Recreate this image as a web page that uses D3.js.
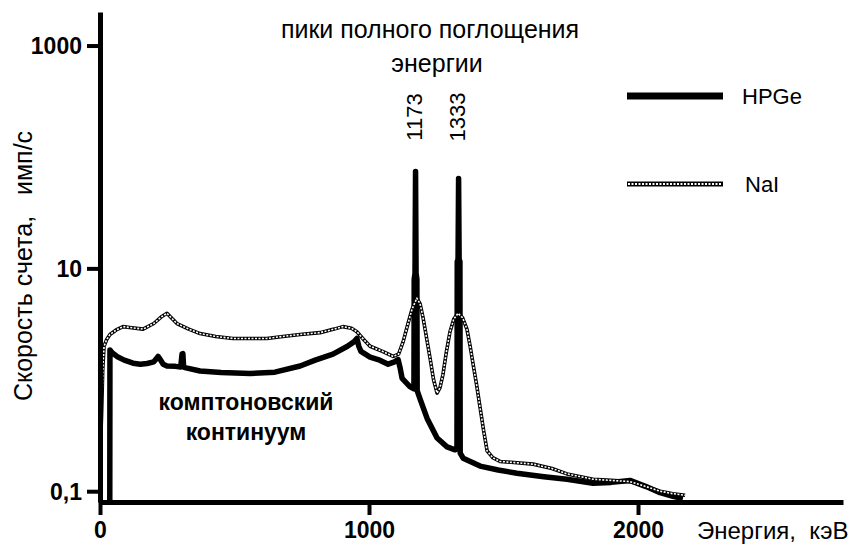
<!DOCTYPE html>
<html>
<head>
<meta charset="utf-8">
<script src="https://cdn.jsdelivr.net/npm/d3@7"></script>
<style>
  body { margin: 0; background: #fff; }
  text { font-family: "Liberation Sans", Arial, sans-serif; fill: #000; }
</style>
</head>
<body>
<div id="chart"></div>
<script>
// HPGe spectrum (energy keV, count rate)
const hpgeE = [36, 37, 45, 63, 90, 123, 150, 175, 200, 210, 216, 222, 235, 249, 280, 300, 305, 308, 311, 320,
  372, 450, 558, 650, 744, 800, 866, 920, 945, 955, 962, 970, 1004, 1040, 1071, 1095, 1108, 1115, 1123, 1152,
  1167, 1168, 1171, 1173, 1175, 1178, 1179, 1190, 1216, 1253, 1290, 1320, 1327, 1328, 1331, 1333, 1335, 1338, 1339,
  1350, 1413, 1480, 1550, 1650, 1736, 1833, 1900, 1970, 2030, 2082, 2130, 2167];
const hpgeV = [0.01, 1.85, 1.75, 1.62, 1.5, 1.41, 1.38, 1.4, 1.45, 1.55, 1.62, 1.55, 1.38, 1.33, 1.32, 1.3, 1.7, 1.72, 1.3, 1.28,
  1.2, 1.16, 1.14, 1.17, 1.33, 1.5, 1.7, 2.0, 2.2, 2.35, 2.0, 1.8, 1.6, 1.5, 1.38, 1.45, 1.52, 1.3, 1.03, 0.87,
  0.83, 8, 9, 74, 9, 8, 0.8, 0.67, 0.45, 0.3, 0.25, 0.235, 0.24, 11.5, 12, 64, 12, 11.5, 0.22,
  0.198, 0.168, 0.155, 0.145, 0.135, 0.128, 0.118, 0.12, 0.125, 0.11, 0.097, 0.09, 0.086];

// NaI spectrum
const naiE = [2, 6, 10, 15, 25, 37, 60, 86, 110, 160, 200, 230, 249, 265, 286, 330, 372, 430, 494, 560, 620, 680, 744,
  818, 870, 903, 935, 955, 980, 1004, 1050, 1090, 1110, 1127, 1145, 1160, 1178, 1190, 1201, 1215, 1227, 1240, 1253,
  1264, 1275, 1288, 1301, 1315, 1331, 1348, 1364, 1376, 1387, 1400, 1413, 1426, 1439, 1460, 1487, 1550, 1610, 1680,
  1736, 1833, 1900, 1970, 2030, 2082, 2130, 2175];
const naiV = [0.25, 0.5, 1.2, 2.0, 2.3, 2.55, 2.8, 3.0, 2.95, 2.85, 3.2, 3.7, 3.95, 3.6, 3.2, 2.85, 2.6, 2.45, 2.35, 2.35, 2.35, 2.45, 2.55,
  2.65, 2.85, 3.0, 2.9, 2.7, 2.3, 2.0, 1.8, 1.62, 1.7, 2.2, 3.2, 4.3, 5.4, 4.8, 3.6, 2.3, 1.56, 1.0, 0.76,
  0.85, 1.12, 1.8, 2.7, 3.5, 3.95, 3.6, 2.85, 2.0, 1.38, 0.9, 0.56, 0.35, 0.23, 0.2, 0.185, 0.18, 0.175, 0.16,
  0.143, 0.128, 0.125, 0.122, 0.11, 0.1, 0.095, 0.092];

const xTicks = [0, 1000, 2000];
const yTicks = [0.1, 10, 1000];
const yTickLabels = ["0,1", "10", "1000"];
const seriesNames = ["HPGe", "NaI"];
const peakLabels = ["1173", "1333"];

const width = 862, height = 548;
const svg = d3.select("#chart").append("svg")
  .attr("width", width)
  .attr("height", height);

const x = d3.scaleLinear().domain([0, 2762]).range([100, 843]);
const y = d3.scaleLog().domain([0.08, 2000]).range([502, 12]);

svg.append("clipPath").attr("id", "plot")
  .append("rect").attr("x", 100).attr("y", 0).attr("width", 760).attr("height", 502);

const line = d3.line().x(d => x(d[0])).y(d => y(d[1]));

const hpge = hpgeE.map((e, i) => [e, hpgeV[i]]);
const nai = naiE.map((e, i) => [e, naiV[i]]);

const plot = svg.append("g").attr("clip-path", "url(#plot)");

plot.append("path")
  .attr("d", line(hpge))
  .attr("fill", "none")
  .attr("stroke", "#000")
  .attr("stroke-width", 5.5)
  .attr("stroke-linejoin", "round");

// NaI: speckled line, black base with white dashes
plot.append("path")
  .attr("d", line(nai))
  .attr("fill", "none")
  .attr("stroke", "#000")
  .attr("stroke-width", 3.6)
  .attr("stroke-linejoin", "round");
plot.append("path")
  .attr("d", line(nai))
  .attr("fill", "none")
  .attr("stroke", "#fff")
  .attr("stroke-width", 1.6)
  .attr("stroke-dasharray", "2,1.5")
  .attr("stroke-linejoin", "round");

// axes
const xAxis = svg.append("g")
  .attr("transform", "translate(0,502)")
  .call(d3.axisBottom(x).tickValues(xTicks).tickSize(13).tickSizeOuter(0).tickPadding(7)
    .tickFormat(d3.format("d")));
const yAxis = svg.append("g")
  .attr("transform", "translate(100,0)")
  .call(d3.axisLeft(y).tickValues(yTicks).tickSize(13).tickSizeOuter(0).tickPadding(5)
    .tickFormat((d, i) => yTickLabels[i]));

[xAxis, yAxis].forEach(a => {
  a.select(".domain").attr("stroke-width", 5);
  a.selectAll(".tick line").attr("stroke-width", 4);
  a.selectAll(".tick text")
    .style("font-size", "23px")
    .style("font-weight", "bold")
    .style("font-family", "'Liberation Sans', Arial, sans-serif");
});
yAxis.selectAll(".tick text").attr("dy", "0.36em");

// axis titles
svg.append("text")
  .attr("transform", "translate(32,266) rotate(-90)")
  .attr("text-anchor", "middle")
  .style("font-size", "25px")
  .style("white-space", "pre")
  .text("Скорость счета,   имп/с");

svg.append("text")
  .attr("x", 697).attr("y", 539)
  .style("font-size", "24px")
  .style("white-space", "pre")
  .text("Энергия,  кэВ");

// annotations
svg.append("text").attr("x", 430).attr("y", 38)
  .attr("text-anchor", "middle").style("font-size", "25px")
  .text("пики полного поглощения");
svg.append("text").attr("x", 437).attr("y", 72)
  .attr("text-anchor", "middle").style("font-size", "25px")
  .text("энергии");

[1173, 1333].forEach((e, i) => {
  svg.append("text")
    .attr("transform", `translate(${x(e) + 6},117) rotate(-90)`)
    .attr("text-anchor", "middle")
    .style("font-size", "22px")
    .text(peakLabels[i]);
});

svg.append("text").attr("x", 246).attr("y", 410)
  .attr("text-anchor", "middle").style("font-size", "23px").style("font-weight", "bold")
  .text("комптоновский");
svg.append("text").attr("x", 246).attr("y", 440)
  .attr("text-anchor", "middle").style("font-size", "23px").style("font-weight", "bold")
  .text("континуум");

// legend
const legend = svg.append("g");
legend.append("line")
  .attr("x1", 627).attr("x2", 723).attr("y1", 96).attr("y2", 96)
  .attr("stroke", "#000").attr("stroke-width", 7);
legend.append("line")
  .attr("x1", 627).attr("x2", 723).attr("y1", 184).attr("y2", 184)
  .attr("stroke", "#000").attr("stroke-width", 5);
legend.append("line")
  .attr("x1", 628).attr("x2", 722).attr("y1", 184).attr("y2", 184)
  .attr("stroke", "#fff").attr("stroke-width", 2).attr("stroke-dasharray", "2,1.5");
legend.selectAll("text.lg")
  .data(seriesNames)
  .join("text")
  .attr("class", "lg")
  .attr("x", (d, i) => i === 0 ? 742 : 745)
  .attr("y", (d, i) => i === 0 ? 96 : 184)
  .attr("dy", "0.36em")
  .style("font-size", "22px")
  .text(d => d);
</script>
</body>
</html>
